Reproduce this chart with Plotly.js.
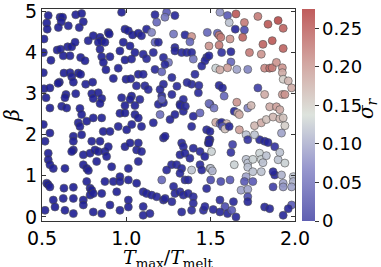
<!DOCTYPE html>
<html><head><meta charset="utf-8">
<script src="https://cdn.plot.ly/plotly-3.0.1.min.js"></script>
<style>html,body{margin:0;padding:0;background:#fff}#chart{width:381px;height:267px}</style>
</head><body><div id="chart"></div>
<script>
// T_max/T_melt values
const tRatio = [
// left / upper
0.537,0.528,0.531,0.607,0.622,0.614,0.597,0.656,0.700,0.735,
0.745,0.721,0.972,0.512,0.508,0.590,0.610,0.652,0.676,0.696,
0.774,0.804,0.844,0.854,0.893,0.899,0.834,0.873,0.844,0.962,
0.992,1.012,1.037,1.071,0.982,1.022,1.051,0.553,0.626,0.666,
0.729,0.755,0.854,0.864,0.903,0.992,1.031,0.508,0.630,0.666,
0.676,0.715,0.729,0.879,0.952,0.603,0.595,0.686,0.759,0.800,
0.923,0.998,1.026,1.071,0.512,0.547,0.642,0.636,0.700,0.795,
0.834,0.524,0.804,0.854,0.972,1.031,1.022,0.547,0.617,0.725,
0.992,1.051,
// left / lower
0.646,0.735,0.715,0.725,0.765,0.804,0.854,0.844,0.962,0.992,
1.051,1.071,0.508,0.547,0.518,0.686,0.686,0.735,0.795,0.844,
0.863,0.903,0.952,1.002,0.686,0.676,0.745,0.785,0.814,0.834,
0.873,0.893,0.992,1.022,1.061,0.537,0.537,0.547,0.567,0.636,
0.745,0.765,0.775,0.824,0.883,0.913,1.012,0.962,0.528,0.537,
0.547,0.630,0.686,0.765,0.785,0.795,0.873,0.923,0.962,1.012,
1.061,0.567,0.626,0.686,0.745,0.785,0.804,0.854,0.943,1.012,
0.518,0.577,0.636,0.686,0.745,0.804,0.854,0.903,0.962,1.012,
// middle / lower
1.190,1.220,1.318,1.338,1.288,1.397,1.437,1.496,1.032,1.090,
1.160,1.200,1.259,1.387,1.476,1.496,1.071,1.090,1.071,1.220,
1.230,1.328,1.338,1.318,1.348,1.377,1.397,1.437,1.486,1.496,
1.268,1.239,1.298,1.328,1.387,1.437,1.447,1.496,1.210,1.280,
1.348,1.318,1.367,1.100,1.120,1.150,1.180,1.220,1.230,1.270,
1.288,1.318,1.338,1.367,1.397,1.397,1.457,1.466,1.555,1.585,
1.100,1.100,1.140,1.328,1.387,
// middle / upper
1.170,1.239,1.229,1.288,1.180,1.120,1.090,1.150,1.170,1.190,
1.280,1.348,1.387,1.377,1.288,1.288,1.328,1.358,1.387,1.397,
1.476,1.466,1.447,1.220,1.250,1.229,1.100,1.160,1.170,1.210,
1.100,1.060,1.110,1.130,1.270,1.220,1.407,1.387,1.427,1.080,
1.210,1.210,1.270,1.338,1.300,1.360,1.430,1.320,1.350,1.120,
1.200,
// right / upper
1.555,1.600,1.650,1.610,1.700,1.780,1.840,1.900,1.930,1.700,
1.646,1.480,1.540,1.550,1.560,1.615,1.490,1.550,1.690,1.810,
1.865,1.930,1.730,1.800,1.620,1.565,1.490,1.620,1.530,1.555,
1.600,1.655,1.720,1.820,1.850,1.865,1.890,1.925,1.925,1.930,
1.960,1.980,1.780,1.550,1.570,1.580,1.655,1.820,1.925,1.940,
1.720,1.740,1.850,1.890,1.910,1.490,1.520,1.640,1.660,1.670,
// right / lower
1.530,1.555,1.565,1.595,1.570,1.585,1.610,1.670,1.760,1.800,
1.830,1.870,1.910,1.930,1.940,1.920,1.710,1.720,1.790,1.820,
1.840,1.880,1.760,1.630,1.620,1.505,1.490,1.490,1.465,1.710,
1.720,1.750,1.790,1.800,1.810,1.830,1.900,1.910,1.940,1.720,
1.750,1.800,1.640,1.500,1.510,1.710,1.700,1.680,1.750,1.720,
1.880,1.870,1.920,1.930,1.930,1.990,1.990,1.980,1.560,1.615,
1.500,1.476,1.870,1.720,1.720,1.820,1.850,1.930,1.980,1.960,
1.635,1.650,1.600,1.625,1.555,1.515
];
// beta values
const beta = [
4.90,4.72,4.57,4.86,4.86,4.75,4.61,4.65,4.92,4.95,
4.75,4.61,4.98,4.33,4.00,4.06,4.08,4.14,4.14,4.25,
4.29,4.41,4.37,4.29,4.49,4.45,4.25,4.25,4.08,4.04,
4.57,4.53,4.43,4.47,4.25,4.16,4.00,3.81,3.92,3.92,
3.88,3.80,3.90,3.76,3.90,3.82,3.84,3.51,3.50,3.51,
3.41,3.50,3.47,3.58,3.62,3.28,3.25,3.28,3.23,3.28,
3.37,3.35,3.36,3.47,3.12,3.14,2.98,2.90,3.00,3.00,
3.02,2.90,2.88,2.88,2.90,2.94,2.86,2.65,2.69,2.64,
2.71,2.71,
2.65,2.49,2.29,2.20,2.33,2.41,2.41,2.76,2.52,2.53,
2.49,2.41,2.25,2.04,1.84,1.96,1.84,2.00,1.84,1.84,
2.08,2.08,2.20,2.12,1.63,1.59,1.51,1.55,1.63,1.59,
1.59,1.71,1.71,1.80,1.63,1.55,1.39,1.27,1.18,1.18,
1.27,1.18,1.13,1.35,1.47,1.22,1.18,0.98,0.82,0.78,
0.73,0.70,0.72,0.86,0.70,0.65,0.86,0.86,0.86,0.90,
0.82,0.41,0.45,0.45,0.41,0.53,0.57,0.57,0.61,0.41,
0.16,0.24,0.16,0.08,0.29,0.12,0.08,0.29,0.16,0.24,
2.74,2.78,2.74,2.57,2.49,2.45,2.53,2.74,2.25,2.20,
2.29,2.49,2.37,2.20,2.12,2.08,1.80,1.59,1.35,1.92,
1.96,1.80,1.71,1.51,1.55,1.43,1.67,1.59,1.80,1.88,
1.27,1.14,1.27,1.18,1.14,1.27,1.14,1.18,0.90,0.74,
0.90,1.06,0.90,0.61,0.57,0.53,0.49,0.41,0.45,0.37,
0.57,0.61,0.53,0.57,0.49,0.33,0.16,0.25,0.41,0.25,
0.25,0.04,0.08,0.12,0.16,
4.92,4.98,4.86,4.90,4.74,4.57,4.41,4.49,4.25,4.25,
4.45,4.43,4.39,4.26,4.12,4.04,4.00,4.00,4.00,3.84,
3.88,3.80,3.67,3.88,3.76,3.71,3.96,4.00,3.59,3.53,
3.47,3.19,3.19,3.10,3.39,3.23,3.47,3.23,3.02,2.86,
2.94,2.86,2.98,2.86,3.18,3.27,3.20,2.71,2.69,3.85,
3.10,
4.98,4.90,4.94,4.73,4.73,4.88,4.69,4.78,4.59,4.55,
4.57,4.49,4.47,4.42,4.37,4.33,4.16,4.18,4.37,4.20,
4.29,4.10,4.00,3.96,4.02,4.00,3.92,3.77,3.62,3.58,
3.63,3.59,3.59,3.62,3.62,3.63,3.76,3.63,3.51,3.35,
3.31,3.14,3.14,3.20,3.14,2.94,2.79,2.98,2.98,2.98,
2.65,2.71,2.68,2.68,2.61,2.76,2.65,2.57,2.53,2.49,
2.30,2.27,2.30,2.27,2.20,2.14,2.20,2.12,2.22,2.29,
2.37,2.43,2.39,2.41,2.22,2.04,2.00,1.88,1.88,1.84,
1.81,1.71,2.00,1.76,1.57,1.59,1.88,1.80,1.47,1.40,
1.31,1.40,1.55,1.40,1.32,1.49,1.39,1.57,1.31,1.21,
1.10,1.10,1.27,1.18,1.12,0.98,0.86,0.65,0.86,0.67,
1.02,1.10,1.02,0.82,0.73,0.98,0.86,0.73,0.86,0.90,
0.90,0.69,0.73,0.49,0.37,0.24,0.20,0.04,0.29,0.20,
0.37,0.00,0.08,0.16,0.12,0.18
];
// sigma_r values
const sigmaR = [
0.004,0.005,0.003,0.006,0.004,0.005,0.004,0.006,0.005,0.004,
0.005,0.006,0.004,0.005,0.003,0.004,0.006,0.005,0.004,0.005,
0.006,0.004,0.005,0.004,0.006,0.005,0.004,0.005,0.006,0.004,
0.005,0.006,0.004,0.005,0.006,0.004,0.005,0.004,0.005,0.006,
0.004,0.005,0.006,0.004,0.005,0.004,0.006,0.005,0.004,0.005,
0.006,0.004,0.005,0.004,0.006,0.005,0.004,0.005,0.006,0.004,
0.005,0.004,0.006,0.005,0.004,0.005,0.006,0.004,0.005,0.004,
0.006,0.005,0.004,0.005,0.006,0.004,0.005,0.004,0.006,0.005,
0.004,0.006,
0.005,0.004,0.006,0.005,0.004,0.005,0.006,0.004,0.005,0.004,
0.006,0.005,0.004,0.005,0.006,0.004,0.005,0.004,0.006,0.005,
0.004,0.005,0.006,0.004,0.005,0.004,0.006,0.005,0.004,0.005,
0.006,0.004,0.005,0.004,0.006,0.005,0.004,0.005,0.006,0.004,
0.005,0.004,0.006,0.005,0.004,0.005,0.006,0.004,0.005,0.004,
0.006,0.005,0.004,0.005,0.006,0.004,0.005,0.004,0.006,0.005,
0.004,0.005,0.006,0.004,0.005,0.004,0.006,0.005,0.004,0.005,
0.006,0.004,0.005,0.004,0.006,0.005,0.004,0.005,0.006,0.004,
0.008,0.006,0.010,0.008,0.007,0.009,0.060,0.010,0.006,0.007,
0.008,0.065,0.008,0.010,0.012,0.009,0.007,0.008,0.006,0.010,
0.009,0.010,0.012,0.008,0.009,0.011,0.010,0.012,0.011,0.010,
0.009,0.010,0.011,0.012,0.120,0.013,0.012,0.120,0.060,0.010,
0.012,0.011,0.013,0.008,0.009,0.008,0.010,0.009,0.010,0.011,
0.010,0.011,0.012,0.010,0.013,0.012,0.014,0.012,0.015,0.040,
0.008,0.009,0.010,0.012,0.014,
0.010,0.050,0.070,0.010,0.060,0.008,0.009,0.080,0.060,0.010,
0.070,0.012,0.200,0.060,0.010,0.011,0.012,0.013,0.012,0.070,
0.015,0.012,0.013,0.010,0.070,0.011,0.009,0.010,0.011,0.060,
0.009,0.009,0.010,0.010,0.011,0.010,0.014,0.013,0.012,0.010,
0.011,0.060,0.012,0.011,0.012,0.013,0.014,0.012,0.013,0.010,
0.011,
0.090,0.050,0.250,0.120,0.220,0.220,0.250,0.260,0.240,0.040,
0.010,0.060,0.060,0.220,0.220,0.200,0.200,0.220,0.240,0.240,
0.250,0.240,0.220,0.200,0.010,0.020,0.010,0.060,0.130,0.180,
0.190,0.100,0.080,0.210,0.230,0.220,0.200,0.200,0.180,0.150,
0.170,0.180,0.030,0.010,0.010,0.060,0.200,0.180,0.190,0.200,
0.080,0.170,0.180,0.190,0.180,0.070,0.070,0.010,0.170,0.180,
0.180,0.070,0.010,0.170,0.050,0.160,0.010,0.190,0.170,0.180,
0.160,0.170,0.170,0.160,0.150,0.100,0.120,0.020,0.010,0.010,
0.010,0.020,0.120,0.030,0.020,0.130,0.010,0.010,0.005,0.120,
0.120,0.130,0.130,0.130,0.120,0.120,0.120,0.120,0.130,0.120,
0.120,0.120,0.130,0.120,0.110,0.100,0.050,0.100,0.050,0.100,
0.010,0.010,0.110,0.100,0.090,0.120,0.110,0.100,0.040,0.050,
0.040,0.010,0.030,0.040,0.010,0.010,0.010,0.010,0.050,0.010,
0.010,0.010,0.010,0.050,0.010,0.010
];
const xTicks = [0.5, 1.0, 1.5, 2.0];
const xTickText = ['0.5', '1.0', '1.5', '2.0'];
const yTicks = [0, 1, 2, 3, 4, 5];
const yTickText = ['0', '1', '2', '3', '4', '5'];
const cbTicks = [0, 0.05, 0.10, 0.15, 0.20, 0.25];
const cbTickText = ['0', '0.05', '0.10', '0.15', '0.20', '0.25'];
const sigmaMin = 0, sigmaMax = 0.275;

const markerScale = [
  [0.00, 'rgb(25,25,145)'],
  [0.20, 'rgb(95,95,185)'],
  [0.50, 'rgb(212,220,214)'],
  [0.72, 'rgb(205,150,145)'],
  [1.00, 'rgb(178,58,58)']
];
const barScale = [
  [0.00, 'rgb(96,96,178)'],
  [0.25, 'rgb(152,152,206)'],
  [0.50, 'rgb(221,227,221)'],
  [0.75, 'rgb(210,165,160)'],
  [1.00, 'rgb(192,92,92)']
];

const fontTick = {family: 'DejaVu Sans', size: 19, color: '#000'};
const fontMath = {family: 'DejaVu Serif', size: 20, color: '#000'};
const points = {
  type: 'scatter', mode: 'markers', x: tRatio, y: beta,
  hoverinfo: 'skip', showlegend: false,
  marker: {size: 8, color: sigmaR, cmin: sigmaMin, cmax: sigmaMax,
    colorscale: markerScale, showscale: false, opacity: 0.9,
    line: {color: 'rgba(70,70,70,0.9)', width: 0.7}}
};
const bar = {
  type: 'scatter', mode: 'markers', x: [tRatio[0]], y: [beta[0]],
  hoverinfo: 'skip', showlegend: false,
  marker: {size: 1, opacity: 0, color: [sigmaR[0]], cmin: sigmaMin, cmax: sigmaMax,
    colorscale: barScale, showscale: true,
    colorbar: {x: 1.028, xanchor: 'left', y: 0.5, yanchor: 'middle',
      len: 1, lenmode: 'fraction', thickness: 13, thicknessmode: 'pixels',
      xpad: 0, ypad: 0, outlinewidth: 0,
      ticks: 'outside', ticklen: 4, tickwidth: 1, tickcolor: '#333',
      tickvals: cbTicks, ticktext: cbTickText,
      tickfont: {family: 'DejaVu Sans', size: 18, color: '#000'}}}
};
const layout = {
  width: 381, height: 267,
  margin: {l: 42, r: 86, t: 9, b: 46, pad: 0},
  paper_bgcolor: '#fff', plot_bgcolor: '#fff',
  xaxis: {range: [0.5, 2.0], tickvals: xTicks, ticktext: xTickText,
    ticks: 'inside', ticklen: 4, tickcolor: '#333', showline: true, linecolor: '#333',
    linewidth: 1, mirror: 'ticks', showgrid: false, zeroline: false, tickfont: fontTick},
  yaxis: {range: [-0.1, 5.06], tickvals: yTicks, ticktext: yTickText,
    ticks: 'inside', ticklen: 4, tickcolor: '#333', showline: true, linecolor: '#333',
    linewidth: 1, mirror: 'ticks', showgrid: false, zeroline: false, tickfont: fontTick,
    title: {text: '<i>β</i>', standoff: 6, font: fontMath}},
  annotations: [
    {text: '<i>T</i><sub>max</sub>/<i>T</i><sub>melt</sub>', xref: 'paper', yref: 'paper',
      x: 0.5, y: -0.108, xanchor: 'center', yanchor: 'top', showarrow: false,
      font: {family: 'DejaVu Serif', size: 19, color: '#000'}},
    {text: '<i>σ</i><sub><i>r</i></sub>', xref: 'paper', yref: 'paper', textangle: -90,
      x: 1.285, y: 0.533, xanchor: 'center', yanchor: 'middle', showarrow: false, font: fontMath}
  ]
};
Plotly.newPlot('chart', [points, bar], layout, {staticPlot: true, displayModeBar: false});
</script></body></html>
